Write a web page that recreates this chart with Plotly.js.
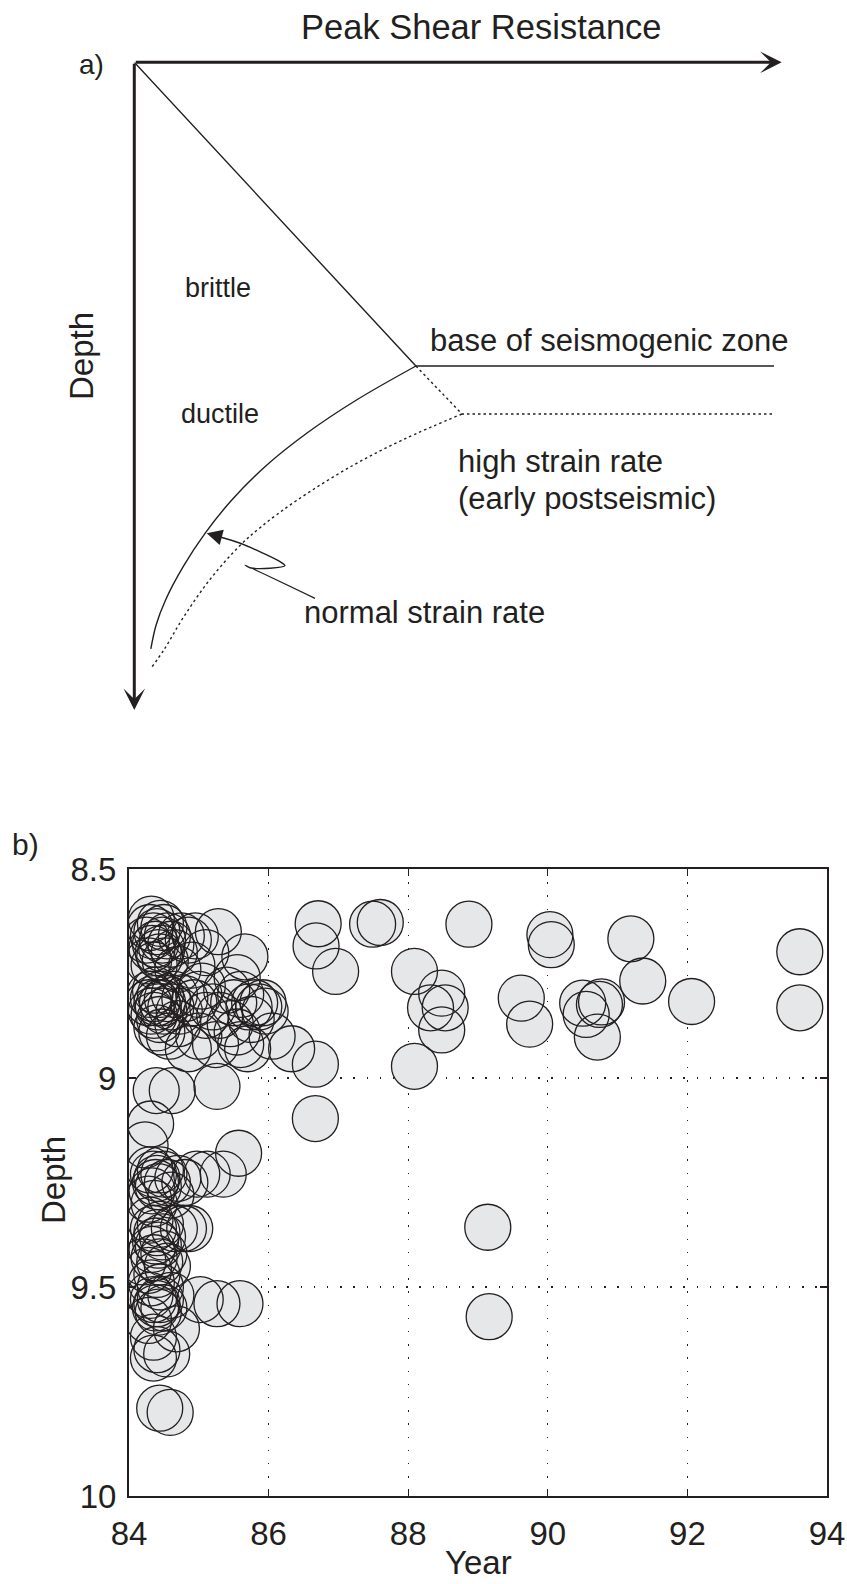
<!DOCTYPE html>
<html><head><meta charset="utf-8">
<script src="https://cdn.plot.ly/plotly-3.0.1.min.js"></script>
<style>html,body{margin:0;padding:0;background:#fff}</style>
</head><body><div id="chart" style="width:847px;height:1584px"></div>
<script>
// ---------- Panel a: schematic (units = fraction of arrow length) ----------
const brittleLineX = [0, 0.435, 0.988];
const brittleLineY = [0, 0.469, 0.469];
const highRateLineX = [0.435, 0.5062, 0.988];
const highRateLineY = [0.469, 0.543, 0.543];
const normalCurveX = [0.4351, 0.3432, 0.2668, 0.2031, 0.1506, 0.1098, 0.0762, 0.0483, 0.0337, 0.0255];
const normalCurveY = [0.4689, 0.5214, 0.5724, 0.6233, 0.6757, 0.7266, 0.7776, 0.8301, 0.8687, 0.9058];
const highCurveX = [0.5062, 0.4174, 0.3360, 0.2519, 0.1956, 0.1610, 0.1162, 0.0762, 0.0456, 0.0272];
const highCurveY = [0.5430, 0.5816, 0.6233, 0.6757, 0.7174, 0.7483, 0.7993, 0.8564, 0.9074, 0.9336];
const leaderX = [0.2791, 0.1710, 0.1787, 0.2096, 0.2328, 0.2251, 0.1993, 0.1638, 0.1273];
const leaderY = [0.8276, 0.7761, 0.7803, 0.7812, 0.7772, 0.7710, 0.7581, 0.7426, 0.7314];
const leaderTip = [0.1118, 0.7272];

// ---------- Panel b: earthquake depths ----------
const years = [
  86.71, 86.68, 86.96, 87.49, 87.60, 86.67, 86.67, 88.87, 88.09, 88.09,
  88.48, 88.32, 88.53, 88.48, 89.62, 89.74, 90.03, 90.05, 91.19, 91.36,
  92.06, 93.61, 93.61, 90.50, 90.55, 90.74, 90.77, 90.71, 89.14, 89.16,
  84.30, 84.35, 84.40, 84.45, 84.50, 84.38, 84.42, 84.33, 84.48, 84.55,
  84.60, 84.28, 84.36, 84.44, 84.52, 84.65, 84.75, 84.85, 84.95, 84.70,
  84.90, 85.28, 85.10, 85.66, 85.55, 84.25, 84.32, 84.47,
  84.30, 84.35, 84.40, 84.45, 84.38, 84.42, 84.32, 84.48, 84.36, 84.44,
  84.28, 84.50, 84.55, 84.60, 84.65, 84.72, 84.80, 84.93, 85.00, 85.10,
  85.05, 85.20, 85.40, 85.50, 85.60, 85.72, 85.80, 85.86, 85.92, 85.95,
  85.75, 85.55, 85.45, 85.70, 85.60, 85.24, 84.85, 84.47, 84.40, 84.58,
  85.00, 86.05, 86.33, 84.70, 85.30,
  84.39, 84.62, 85.26, 84.31, 84.23,
  84.30, 84.35, 84.40, 84.45, 84.38, 84.42, 84.33, 84.50, 84.55, 84.28,
  84.36, 84.70, 84.80, 84.97, 85.12, 85.35, 85.57, 84.60,
  84.30, 84.35, 84.40, 84.45, 84.38, 84.42, 84.33, 84.48, 84.36, 84.44,
  84.28, 84.40, 84.50, 84.55, 84.65, 84.78, 84.87, 84.20, 84.32, 84.45,
  84.30, 84.35, 84.40, 84.45, 84.38, 84.42, 84.50, 84.60, 85.02, 85.26,
  85.59, 84.68, 84.35, 84.28,
  84.35, 84.54, 84.40, 84.44, 84.59
];
const depths = [
  8.631, 8.684, 8.745, 8.632, 8.628, 8.967, 9.097, 8.632, 8.745, 8.972,
  8.797, 8.832, 8.832, 8.885, 8.809, 8.871, 8.657, 8.681, 8.667, 8.768,
  8.817, 8.698, 8.832, 8.821, 8.848, 8.824, 8.818, 8.902, 9.357, 9.571,
  8.64, 8.66, 8.65, 8.63, 8.64, 8.68, 8.70, 8.69, 8.67, 8.66,
  8.68, 8.72, 8.73, 8.71, 8.72, 8.70, 8.66, 8.67, 8.66, 8.74,
  8.73, 8.65, 8.70, 8.71, 8.76, 8.67, 8.62, 8.69,
  8.80, 8.81, 8.82, 8.80, 8.79, 8.83, 8.84, 8.82, 8.85, 8.86,
  8.82, 8.84, 8.81, 8.83, 8.80, 8.84, 8.81, 8.82, 8.80, 8.85,
  8.78, 8.83, 8.79, 8.82, 8.80, 8.83, 8.82, 8.83, 8.82, 8.84,
  8.86, 8.89, 8.87, 8.93, 8.92, 8.92, 8.93, 8.89, 8.88, 8.90,
  8.90, 8.90, 8.93, 8.87, 8.85,
  9.03, 9.03, 9.02, 9.11, 9.16,
  9.22, 9.23, 9.24, 9.22, 9.25, 9.26, 9.27, 9.23, 9.25, 9.29,
  9.30, 9.24, 9.25, 9.23, 9.23, 9.23, 9.18, 9.28,
  9.34, 9.36, 9.37, 9.35, 9.39, 9.40, 9.41, 9.38, 9.43, 9.44,
  9.46, 9.47, 9.42, 9.45, 9.36, 9.36, 9.36, 9.44, 9.49, 9.50,
  9.52, 9.53, 9.54, 9.53, 9.55, 9.56, 9.55, 9.52, 9.53, 9.54,
  9.54, 9.60, 9.62, 9.58,
  9.67, 9.66, 9.65, 9.79, 9.80
];
const yearTicks = [84, 86, 88, 90, 92, 94];
const depthTicks = [8.5, 9, 9.5, 10];
const depthTickText = ['8.5', '9', '9.5', '10'];

const INK = '#231f20';
const FONT = 'Liberation Sans, Arial, Helvetica, sans-serif';
const W = 847, H = 1584;

const traces = [
  {x: brittleLineX, y: brittleLineY, xaxis: 'x2', yaxis: 'y2', mode: 'lines',
   line: {color: INK, width: 1.4}, hoverinfo: 'skip'},
  {x: highRateLineX, y: highRateLineY, xaxis: 'x2', yaxis: 'y2', mode: 'lines',
   line: {color: INK, width: 1.4, dash: '2.5px,3px'}, hoverinfo: 'skip'},
  {x: normalCurveX, y: normalCurveY, xaxis: 'x2', yaxis: 'y2', mode: 'lines',
   line: {color: INK, width: 1.4, shape: 'spline', smoothing: 1}, hoverinfo: 'skip'},
  {x: highCurveX, y: highCurveY, xaxis: 'x2', yaxis: 'y2', mode: 'lines',
   line: {color: INK, width: 1.4, dash: '2.5px,3px', shape: 'spline', smoothing: 1}, hoverinfo: 'skip'},
  {x: leaderX, y: leaderY, xaxis: 'x2', yaxis: 'y2', mode: 'lines',
   line: {color: INK, width: 1.4, shape: 'spline', smoothing: 0.8}, hoverinfo: 'skip'},
  // bubble faces
  {x: years, y: depths, xaxis: 'x', yaxis: 'y', mode: 'markers',
   marker: {size: 46, color: '#e6e7e8', line: {width: 0}}, hoverinfo: 'skip'},
  // bubble outlines
  {x: years, y: depths, xaxis: 'x', yaxis: 'y', mode: 'markers',
   marker: {size: 46, color: 'rgba(0,0,0,0)', line: {width: 1.3, color: INK}}, hoverinfo: 'skip'}
];

function ann(text, x, y, size, opts) {
  return Object.assign({text: text, x: x, y: y, xref: 'x2', yref: 'y2', showarrow: false,
    xanchor: 'center', yanchor: 'middle',
    font: {family: FONT, size: size, color: INK}}, opts || {});
}
function pann(text, px, py, size, opts) {
  return Object.assign({text: text, x: px / W, y: 1 - py / H, xref: 'paper', yref: 'paper',
    showarrow: false, xanchor: 'center', yanchor: 'middle',
    font: {family: FONT, size: size, color: INK}}, opts || {});
}

const annotations = [
  // axis arrows
  {x: 1, y: 0, ax: 0, ay: 0, xref: 'x2', yref: 'y2', axref: 'x2', ayref: 'y2', text: '',
   showarrow: true, arrowhead: 3, arrowsize: 1.2, arrowwidth: 3, arrowcolor: INK, standoff: 0},
  {x: 0, y: 1, ax: 0, ay: 0, xref: 'x2', yref: 'y2', axref: 'x2', ayref: 'y2', text: '',
   showarrow: true, arrowhead: 3, arrowsize: 1.2, arrowwidth: 3, arrowcolor: INK, standoff: 0},
  // leader arrow head
  {x: leaderTip[0], y: leaderTip[1], ax: leaderX[leaderX.length - 1], ay: leaderY[leaderY.length - 1],
   xref: 'x2', yref: 'y2', axref: 'x2', ayref: 'y2', text: '',
   showarrow: true, arrowhead: 2, arrowsize: 2.4, arrowwidth: 1.3, arrowcolor: INK, standoff: 0},
  pann('Peak Shear Resistance', 481, 27, 34.5),
  pann('a)', 91, 64, 28),
  pann('Depth', 82, 356, 33, {textangle: -90}),
  ann('brittle', 0.1293, 0.3485, 27),
  ann('ductile', 0.1324, 0.543, 27),
  ann('base of seismogenic zone', 0.734, 0.429, 31),
  ann('high strain rate', 0.4968, 0.617, 31, {xanchor: 'left'}),
  ann('(early postseismic)', 0.4968, 0.6727, 31, {xanchor: 'left'}),
  ann('normal strain rate', 0.2591, 0.849, 31, {xanchor: 'left'}),
  pann('b)', 25.5, 844, 30),
  pann('Depth', 53, 1180, 33, {textangle: -90}),
  pann('Year', 478, 1562, 33)
];

const layout = {
  width: W, height: H,
  margin: {l: 0, r: 0, t: 0, b: 0},
  paper_bgcolor: '#fff', plot_bgcolor: 'rgba(0,0,0,0)',
  showlegend: false,
  font: {family: FONT, color: INK},
  xaxis2: {domain: [134.3 / W, 781.7 / W], range: [0, 1], visible: false, anchor: 'y2', fixedrange: true},
  yaxis2: {domain: [1 - 710 / H, 1 - 62.3 / H], range: [1, 0], visible: false, anchor: 'x2', fixedrange: true},
  xaxis: {
    domain: [129 / W, 827 / W], range: [84, 94], anchor: 'y',
    tickvals: yearTicks, ticktext: yearTicks.map(String),
    showline: true, linecolor: INK, linewidth: 2, mirror: 'ticks',
    ticks: 'inside', ticklen: 7, tickwidth: 1.3, tickcolor: INK,
    showgrid: true, gridcolor: INK, gridwidth: 1.4, griddash: '1.4px,11.8px',
    zeroline: false, ticklabelstandoff: 7,
    tickfont: {size: 33, family: FONT, color: INK}
  },
  yaxis: {
    domain: [1 - 1496 / H, 1 - 869 / H], range: [10, 8.5], anchor: 'x',
    tickvals: depthTicks, ticktext: depthTickText,
    showline: true, linecolor: INK, linewidth: 2, mirror: 'ticks',
    ticks: 'inside', ticklen: 7, tickwidth: 1.3, tickcolor: INK,
    showgrid: true, gridcolor: INK, gridwidth: 1.4, griddash: '1.4px,11.8px',
    zeroline: false, ticklabelstandoff: 4,
    tickfont: {size: 33, family: FONT, color: INK}
  },
  annotations: annotations
};

Plotly.newPlot('chart', traces, layout, {staticPlot: true, displayModeBar: false});
</script>
</body></html>
